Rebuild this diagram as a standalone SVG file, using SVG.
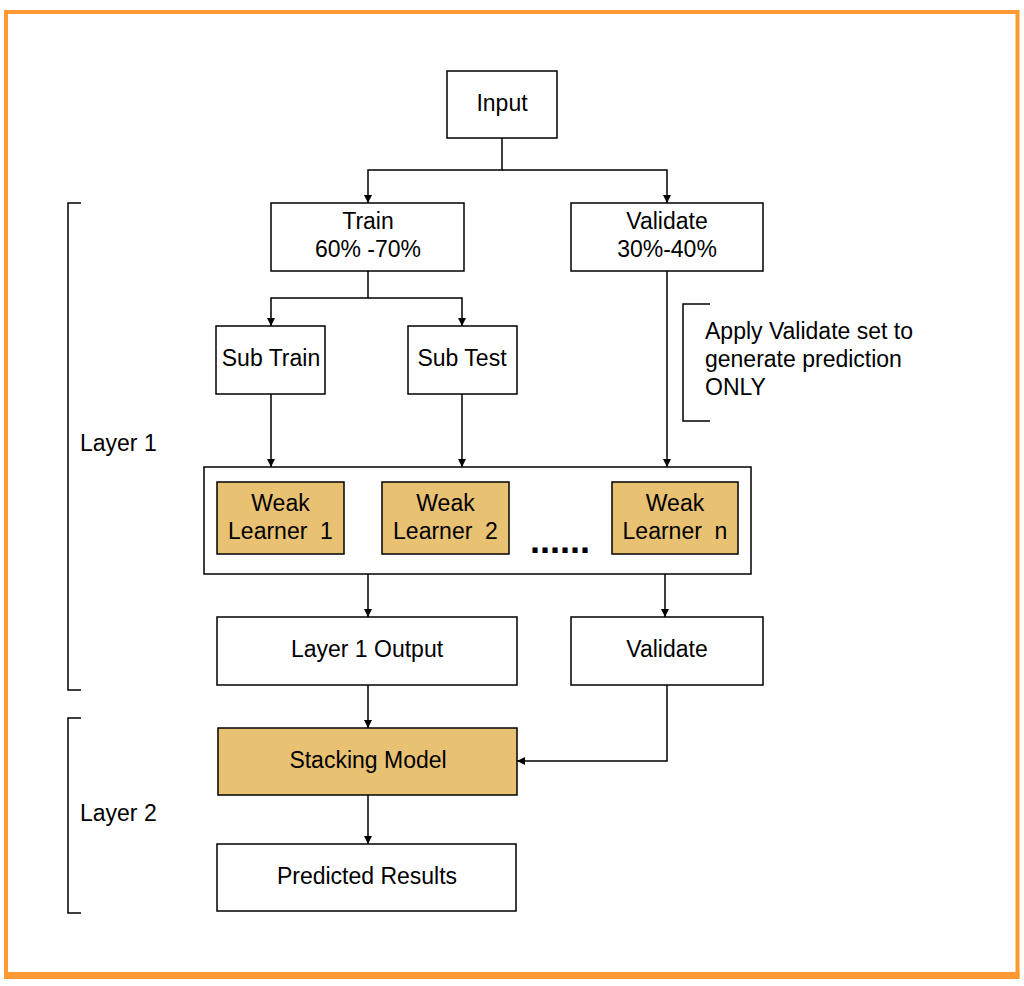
<svg xmlns="http://www.w3.org/2000/svg" width="1024" height="986" viewBox="0 0 1024 986">
  <style>
    .box { fill: #ffffff; stroke: #000000; stroke-width: 1.5; }
    .gold { fill: #e8c173; stroke: #000000; stroke-width: 1.5; }
    .lbl { font-family: "Liberation Sans", Arial, sans-serif; font-size: 23px; fill: #000000; white-space: pre; }
    .mid { text-anchor: middle; }
    .wire { fill: none; stroke: #000000; stroke-width: 1.5; }
    .brace { fill: none; stroke: #000000; stroke-width: 1.5; }
  </style>
  <defs>
    <marker id="arrow" viewBox="0 0 10 10" refX="10" refY="5" markerWidth="8" markerHeight="8" markerUnits="userSpaceOnUse" orient="auto">
      <path d="M0,0 L10,5 L0,10 Z" fill="#000000"/>
    </marker>
  </defs>

  <rect width="1024" height="986" fill="#ffffff"/>
  <!-- outer frame -->
  <rect x="6" y="12" width="1011.5" height="963.5" fill="none" stroke="#ff9933" stroke-width="4"/>
  <line x1="4" y1="975.5" x2="1019.5" y2="975.5" stroke="#ff9933" stroke-width="7"/>

  <!-- connectors -->
  <g id="connectors">
    <path class="wire" d="M502,138 V170 H368 V203" marker-end="url(#arrow)"/>
    <path class="wire" d="M502,170 H667 V203" marker-end="url(#arrow)"/>
    <path class="wire" d="M368,271 V298 H271 V326" marker-end="url(#arrow)"/>
    <path class="wire" d="M368,298 H462 V326" marker-end="url(#arrow)"/>
    <path class="wire" d="M271,394 V467" marker-end="url(#arrow)"/>
    <path class="wire" d="M462,394 V467" marker-end="url(#arrow)"/>
    <path class="wire" d="M667,271 V467" marker-end="url(#arrow)"/>
    <path class="wire" d="M368,574 V617" marker-end="url(#arrow)"/>
    <path class="wire" d="M665,574 V617" marker-end="url(#arrow)"/>
    <path class="wire" d="M368,685 V728" marker-end="url(#arrow)"/>
    <path class="wire" d="M667,685 V761 H517" marker-end="url(#arrow)"/>
    <path class="wire" d="M368,795 V844" marker-end="url(#arrow)"/>
  </g>

  <!-- layer brackets -->
  <g id="layer1">
    <path class="brace" d="M81,203 H68 V690 H81"/>
    <text class="lbl" x="80" y="451">Layer 1</text>
  </g>
  <g id="layer2">
    <path class="brace" d="M81,718 H68 V913 H81"/>
    <text class="lbl" x="80" y="821">Layer 2</text>
  </g>

  <g id="input">
    <rect class="box" x="447" y="71" width="110" height="67"/>
    <text class="lbl mid" x="502" y="111">Input</text>
  </g>
  <g id="train">
    <rect class="box" x="271" y="203" width="193" height="68"/>
    <text class="lbl mid" x="368" y="229">Train</text>
    <text class="lbl mid" x="368" y="257">60% -70%</text>
  </g>
  <g id="validate">
    <rect class="box" x="571" y="203" width="192" height="68"/>
    <text class="lbl mid" x="667" y="229">Validate</text>
    <text class="lbl mid" x="667" y="257">30%-40%</text>
  </g>
  <g id="sub-train">
    <rect class="box" x="216" y="326" width="109" height="68"/>
    <text class="lbl mid" x="271" y="366">Sub Train</text>
  </g>
  <g id="sub-test">
    <rect class="box" x="408" y="326" width="109" height="68"/>
    <text class="lbl mid" x="462" y="366">Sub Test</text>
  </g>

  <g id="note">
    <path class="brace" d="M710,304 H683 V421 H710"/>
    <text class="lbl" x="705" y="339">Apply Validate set to</text>
    <text class="lbl" x="705" y="367">generate prediction</text>
    <text class="lbl" x="705" y="395">ONLY</text>
  </g>

  <g id="learners">
    <rect class="box" x="204" y="467" width="547" height="107"/>
    <g id="learner-1">
      <rect class="gold" x="217" y="482" width="127" height="72"/>
      <text class="lbl mid" x="280.5" y="511">Weak</text>
      <text class="lbl mid" x="280.5" y="539">Learner  1</text>
    </g>
    <g id="learner-2">
      <rect class="gold" x="382" y="482" width="127" height="72"/>
      <text class="lbl mid" x="445.5" y="511">Weak</text>
      <text class="lbl mid" x="445.5" y="539">Learner  2</text>
    </g>
    <g id="ellipsis">
      <text x="560" y="553" text-anchor="middle" font-family="Liberation Sans, Arial, sans-serif" font-size="36" font-weight="bold" fill="#000000">......</text>
    </g>
    <g id="learner-n">
      <rect class="gold" x="612" y="482" width="126" height="72"/>
      <text class="lbl mid" x="675" y="511">Weak</text>
      <text class="lbl mid" x="675" y="539">Learner  n</text>
    </g>
  </g>

  <g id="layer1-output">
    <rect class="box" x="217" y="617" width="300" height="68"/>
    <text class="lbl mid" x="367" y="657">Layer 1 Output</text>
  </g>
  <g id="validate-2">
    <rect class="box" x="571" y="617" width="192" height="68"/>
    <text class="lbl mid" x="667" y="657">Validate</text>
  </g>
  <g id="stacking-model">
    <rect class="gold" x="218" y="728" width="299" height="67"/>
    <text class="lbl mid" x="368" y="768">Stacking Model</text>
  </g>
  <g id="predicted-results">
    <rect class="box" x="217" y="844" width="299" height="67"/>
    <text class="lbl mid" x="367" y="884">Predicted Results</text>
  </g>
</svg>
